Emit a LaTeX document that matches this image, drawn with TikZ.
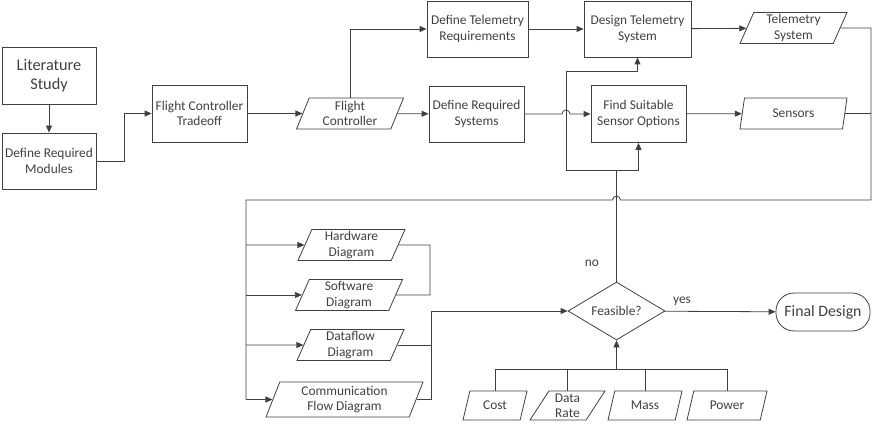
\documentclass[tikz,border=0pt]{standalone}
\usepackage{fontspec}
\setmainfont{Carlito}
\usetikzlibrary{shapes.geometric,arrows.meta}
\begin{document}
\begin{tikzpicture}[x=1pt,y=-1pt,color=black!75,line width=0.8pt,
  >={Triangle[length=7pt,width=6pt]},
  every node/.style={font=\fontsize{13.4}{15.5}\selectfont,align=center},
  box/.style={draw,minimum width=95pt,minimum height=56pt,inner sep=1pt},
  data/.style={draw,trapezium,trapezium left angle=63,trapezium right angle=117,
    trapezium stretches body,minimum width=107pt,minimum height=31pt,inner sep=0pt},
  crit/.style={data,trapezium left angle=52,trapezium right angle=128,minimum height=29pt}]
\useasboundingbox (0,0) rectangle (872,425);
% process boxes
\node[box,minimum width=94pt,minimum height=57pt,font=\fontsize{16.3}{19}\selectfont] (lit) at (49,75.5) {Literature\\Study};
\node[box,minimum width=94pt] (drm) at (49,161) {Define Required\\Modules};
\node[box,minimum height=57pt] (fct) at (199.5,113.5) {Flight Controller\\Tradeoff};
\node[box,minimum width=101pt] (dtr) at (477.5,29) {Define Telemetry\\Requirements};
\node[box] (drs) at (476.5,114) {Define Required\\Systems};
\node[box,minimum width=107pt] (dts) at (637.5,29) {Design Telemetry\\System};
\node[box,minimum height=57pt] (fsso) at (638.5,114) {Find Suitable\\Sensor Options};
% data
\node[data] (fc) at (350,113.5) {Flight\\Controller};
\node[data] (tsys) at (793.5,28) {Telemetry\\System};
\node[data] (sens) at (793.5,113.5) {Sensors};
\foreach \n/\x/\y/\t in {hw/351.5/245/Hardware,sw/349/295/Software,df/350.5/345/Dataflow} {
  \node[data] (\n) at (\x,\y) {\t\\Diagram};
}
\node[data,minimum width=157pt,minimum height=35pt] (cfd) at (344.5,399.5) {Communication\\Flow Diagram};
\foreach \n/\x/\w/\t in {cost/495/64/Cost,rate/567.5/75/Data\\Rate,mass/645/74/Mass,power/727/80/Power} {
  \node[crit,minimum width=\w pt] (\n) at (\x,405.5) {\t};
}
\node[draw,diamond,aspect=1.67,inner sep=0pt,minimum width=97pt,minimum height=58pt] (feas) at (616.5,311) {Feasible?};
\node[draw,rounded corners=18pt,minimum width=94pt,minimum height=38pt,font=\fontsize{15.8}{18}\selectfont] (final) at (823,312) {Final Design};
\node at (592,263) {no};
\node at (682,301) {yes};
% junctions
\coordinate (split) at (616.5,170);
\coordinate (bus) at (246,200);
\coordinate (jA) at (430,295);
\coordinate (jB) at (431,311);
\coordinate (join) at (616.5,369);
% connectors
\draw[->] (lit) -- (drm);
\draw[->] (drm.east) -- ++(28,0) |- (fct.west);
\draw[->] (fct) -- (fc);
\draw[->] (fc.north) |- (dtr);
\draw[->] (fc) -- (drs);
\draw[->] (dtr) -- (dts);
\draw[->] (dts) -- (tsys);
\draw[->] (fsso) -- (sens);
\draw[->] (drs.east) -- (562,114) arc[start angle=180,end angle=0,radius=4pt] -- (fsso.west);
\draw (feas.north) -- (split);
\draw[->] (split) -| (fsso.south);
\draw[->] (split) -- (566,170) -- (566,71) -| (dts.south);
\draw (tsys.east) -- (871,28) -- (871,200) -- (620.5,200) arc[start angle=0,end angle=180,radius=4pt] -- (bus) -- (246,399.5);
\draw (sens.east) -- (871,113.5);
\foreach \n in {hw,sw,df,cfd} {
  \draw[->] (bus |- \n) -- (\n);
}
\draw (hw.east) -| (jA) -- (sw.east);
\draw (df.east) -| (jB);
\draw (cfd.east) -| (jB);
\draw[->] (jB) -- (feas.west);
\draw[->] (feas) -- (final);
\foreach \n in {cost,rate,mass,power} {
  \draw (\n.north) |- (join);
}
\draw[->] (join) -- (feas.south);
\end{tikzpicture}
\end{document}
